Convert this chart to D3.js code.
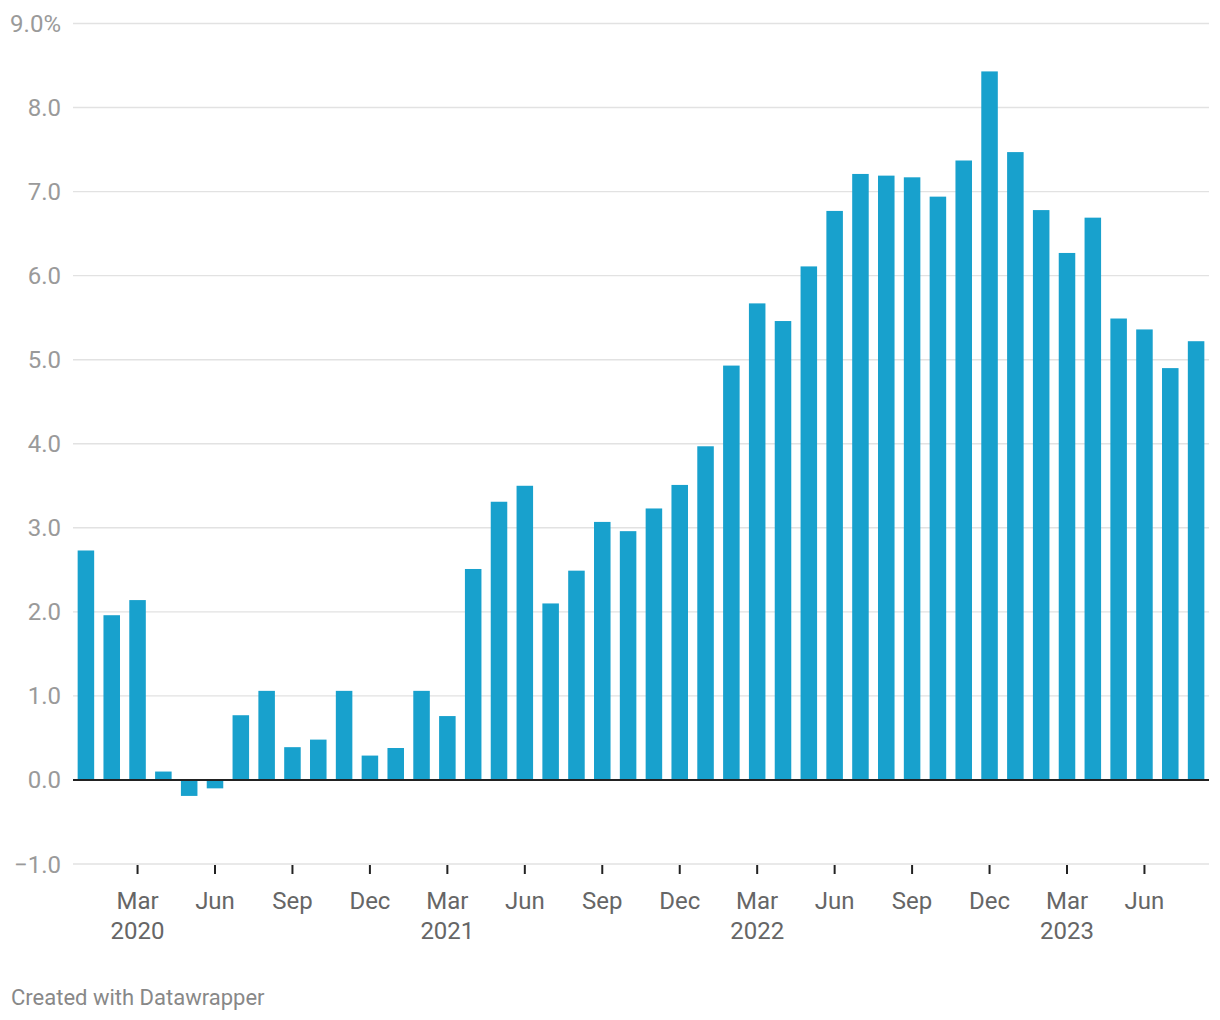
<!DOCTYPE html>
<html><head><meta charset="utf-8">
<script src="https://cdn.jsdelivr.net/npm/d3@7"></script>
<style>body{margin:0;background:#fff;font-family:Roboto,sans-serif;}</style>
</head><body>
<svg id="c" width="1220" height="1020"></svg>
<script>
const months = ["Jan","Feb","Mar","Apr","May","Jun","Jul","Aug","Sep","Oct","Nov","Dec"];
const years = [2020, 2021, 2022, 2023];
const values = [
 2.73, 1.96, 2.14, 0.10, -0.19, -0.10, 0.77, 1.06, 0.39, 0.48, 1.06, 0.29,
 0.38, 1.06, 0.76, 2.51, 3.31, 3.50, 2.10, 2.49, 3.07, 2.96, 3.23, 3.51,
 3.97, 4.93, 5.67, 5.46, 6.11, 6.77, 7.21, 7.19, 7.17, 6.94, 7.37, 8.43,
 7.47, 6.78, 6.27, 6.69, 5.49, 5.36, 4.90, 5.22
];
const yTicks = [-1, 0, 1, 2, 3, 4, 5, 6, 7, 8, 9];
const tickMonths = ["Mar","Jun","Sep","Dec"];

const data = values.map((v,i)=>({key: i, month: months[i%12], year: years[Math.floor(i/12)], value: v}));

const svg = d3.select("#c");
const x = d3.scaleBand().domain(data.map(d=>d.key)).range([73,1209]).paddingInner(0.36).paddingOuter(0.18);
const y = d3.scaleLinear().domain([-1,9]).range([864,23.5]);

// gridlines
svg.append("g").selectAll("line").data(yTicks.filter(t=>t!==0)).join("line")
  .attr("x1",73).attr("x2",1209).attr("y1",d=>y(d)).attr("y2",d=>y(d))
  .attr("stroke","#e2e2e2").attr("stroke-width",1.4);

// y labels
svg.append("g").selectAll("text").data(yTicks).join("text")
  .attr("x",61).attr("y",d=>y(d)+8.5).attr("text-anchor","end")
  .attr("fill","#9a9a9a").attr("font-size",24)
  .text(d=>{const s = d<0 ? "\u2212"+Math.abs(d).toFixed(1) : d.toFixed(1); return d===9? s+"%": s;});

// bars
svg.append("g").selectAll("rect").data(data).join("rect")
  .attr("x",d=>x(d.key)).attr("width",x.bandwidth())
  .attr("y",d=>y(Math.max(0,d.value))).attr("height",d=>Math.abs(y(d.value)-y(0)))
  .attr("fill","#18a1cd");

// zero line
svg.append("line").attr("x1",73).attr("x2",1209).attr("y1",y(0)).attr("y2",y(0))
  .attr("stroke","#222").attr("stroke-width",2);

// x ticks
const tickData = data.filter(d=>tickMonths.includes(d.month));
const xg = svg.append("g");
xg.selectAll("line").data(tickData).join("line")
  .attr("x1",d=>x(d.key)+x.bandwidth()/2).attr("x2",d=>x(d.key)+x.bandwidth()/2)
  .attr("y1",865).attr("y2",874).attr("stroke","#222").attr("stroke-width",2);
xg.selectAll("text.m").data(tickData).join("text").attr("class","m")
  .attr("x",d=>x(d.key)+x.bandwidth()/2).attr("y",909).attr("text-anchor","middle")
  .attr("fill","#666").attr("font-size",24).text(d=>d.month);
xg.selectAll("text.y").data(tickData.filter(d=>d.month==="Mar")).join("text").attr("class","y")
  .attr("x",d=>x(d.key)+x.bandwidth()/2).attr("y",939).attr("text-anchor","middle")
  .attr("fill","#666").attr("font-size",24).text(d=>d.year);

// credit
svg.append("text").attr("x",11).attr("y",1005).attr("fill","#888").attr("font-size",22)
  .text("Created with Datawrapper");
</script>
</body></html>
